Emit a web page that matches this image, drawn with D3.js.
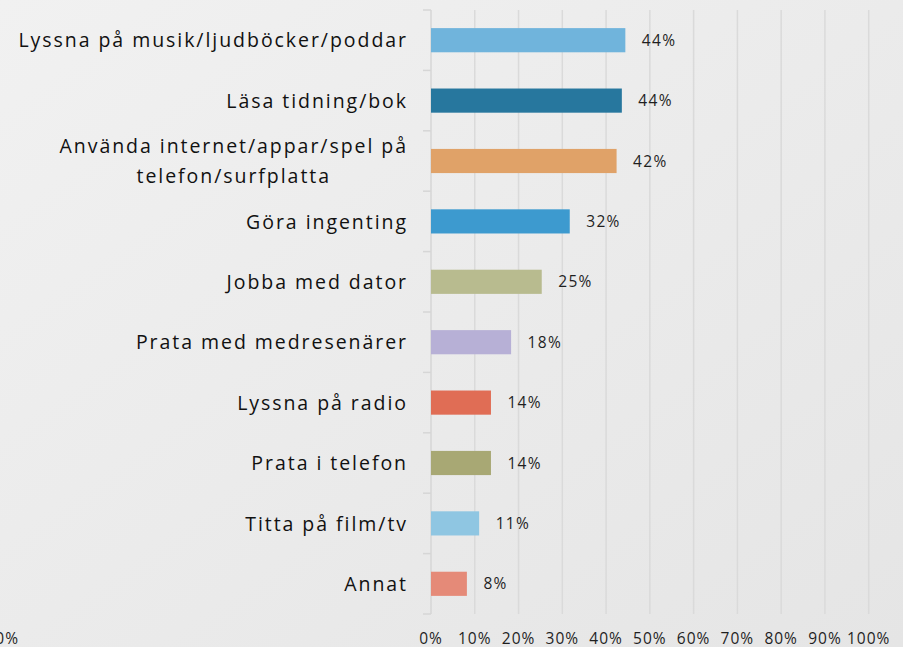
<!DOCTYPE html>
<html><head><meta charset="utf-8">
<script src="https://cdn.jsdelivr.net/npm/d3@7"></script>
<style>
html,body{margin:0;padding:0;background:#ececec;}
svg{display:block;}
</style></head>
<body>
<svg id="chart" width="903" height="647"></svg>
<script>
const categories = [
  "Lyssna på musik/ljudböcker/poddar",
  "Läsa tidning/bok",
  "Använda internet/appar/spel på\ntelefon/surfplatta",
  "Göra ingenting",
  "Jobba med dator",
  "Prata med medresenärer",
  "Lyssna på radio",
  "Prata i telefon",
  "Titta på film/tv",
  "Annat"
];
const values = [44.4, 43.6, 42.4, 31.7, 25.3, 18.3, 13.7, 13.7, 11.0, 8.2];
const barColors = ["#70b4dc", "#27779e", "#e0a268", "#3d9acf", "#b8bb8f", "#b7b0d6", "#e06d55", "#a8a874", "#8fc6e2", "#e58a78"];
const xTicks = [0, 10, 20, 30, 40, 50, 60, 70, 80, 90, 100];
const strayLabel = "100%";

const svg = d3.select("#chart");
const W = 903, H = 647;
const mLeft = 431, mRight = 868.7, mTop = 10, mBottom = 614;

const defs = svg.append("defs");
const grad = defs.append("linearGradient").attr("id", "bg")
  .attr("x1", "0").attr("y1", "0").attr("x2", "1").attr("y2", "1");
grad.append("stop").attr("offset", "0").attr("stop-color", "#f1f1f1");
grad.append("stop").attr("offset", "1").attr("stop-color", "#e5e5e5");
svg.append("rect").attr("width", W).attr("height", H).attr("fill", "url(#bg)");

const x = d3.scaleLinear().domain([0, 100]).range([mLeft, mRight]);
const y = d3.scaleBand().domain(categories).range([mTop, mBottom])
  .paddingInner(0.6).paddingOuter(0.3);

// gridlines
svg.append("g").selectAll("line").data(xTicks.slice(1)).join("line")
  .attr("x1", d => x(d)).attr("x2", d => x(d))
  .attr("y1", mTop).attr("y2", mBottom)
  .attr("stroke", "#dadada").attr("stroke-width", 1.5);

// left axis line + ticks at band boundaries
const step = y.step();
const y0 = y(categories[0]) - y.paddingOuter() * step;
const boundaries = d3.range(categories.length + 1).map(i => y0 + i * step);
svg.append("line").attr("x1", mLeft).attr("x2", mLeft).attr("y1", mTop).attr("y2", mBottom)
  .attr("stroke", "#d6d6d6").attr("stroke-width", 1.5);
svg.append("g").selectAll("line").data(boundaries).join("line")
  .attr("x1", mLeft - 8).attr("x2", mLeft)
  .attr("y1", d => d).attr("y2", d => d)
  .attr("stroke", "#d6d6d6").attr("stroke-width", 1.5);

// bars
svg.append("g").selectAll("rect").data(values).join("rect")
  .attr("x", x(0))
  .attr("y", (d, i) => y(categories[i]))
  .attr("width", d => x(d) - x(0))
  .attr("height", y.bandwidth())
  .attr("fill", (d, i) => barColors[i]);

// value labels
svg.append("g").selectAll("text").data(values).join("text")
  .attr("x", d => x(d) + 16.5)
  .attr("y", (d, i) => y(categories[i]) + y.bandwidth() / 2)
  .attr("dy", "0.36em")
  .attr("font-family", "'Open Sans', sans-serif")
  .attr("font-size", 15.5)
  .attr("letter-spacing", "1.3px")
  .attr("fill", "#1f1f1f")
  .text(d => Math.round(d) + "%");

// category labels
const catG = svg.append("g")
  .attr("font-family", "'Open Sans', sans-serif")
  .attr("font-size", 19.5)
  .attr("letter-spacing", "1.95px")
  .attr("fill", "#111111");
const labelRight = 408;
categories.forEach((c, i) => {
  const lines = c.split("\n");
  const cy = y(c) + y.bandwidth() / 2;
  const t = catG.append("text");
  const tspans = lines.map((ln, j) => t.append("tspan")
    .attr("y", cy + (j - (lines.length - 1) / 2) * 30)
    .attr("dy", "0.37em")
    .text(ln));
  if (lines.length === 1) {
    t.attr("text-anchor", "end");
    tspans[0].attr("x", labelRight);
  } else {
    const widths = tspans.map(s => s.node().getComputedTextLength());
    const maxW = d3.max(widths);
    const cx = labelRight - maxW / 2;
    t.attr("text-anchor", "middle");
    tspans.forEach(s => s.attr("x", cx));
  }
});

// x tick labels
svg.append("g").selectAll("text").data(xTicks).join("text")
  .attr("x", d => x(d))
  .attr("y", 643.5)
  .attr("text-anchor", "middle")
  .attr("font-family", "'Open Sans', sans-serif")
  .attr("font-size", 15.5)
  .attr("letter-spacing", "1px")
  .attr("fill", "#1f1f1f")
  .text(d => d + "%");

// stray clipped label at far left
svg.append("text")
  .attr("x", 19).attr("y", 643.5)
  .attr("text-anchor", "end")
  .attr("font-family", "'Open Sans', sans-serif")
  .attr("font-size", 15.5)
  .attr("letter-spacing", "1px")
  .attr("fill", "#1f1f1f")
  .text(strayLabel);
</script>
</body></html>
